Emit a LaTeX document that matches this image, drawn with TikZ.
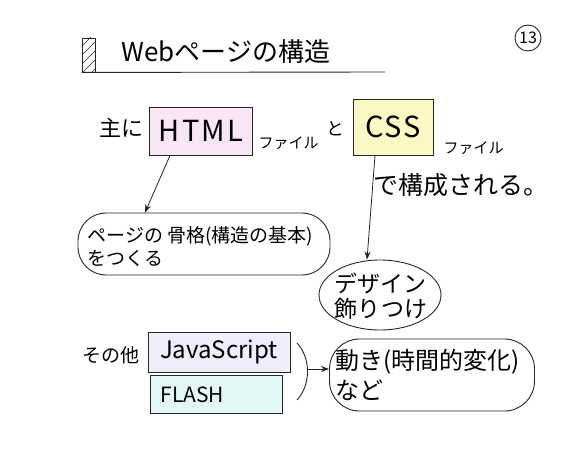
\documentclass[tikz,border=0pt]{standalone}
\usepackage{fontspec}
\setmainfont{Noto Sans CJK JP}
\usetikzlibrary{shapes.geometric,arrows.meta}
\definecolor{pinkc}{HTML}{F8E6F6}
\definecolor{yellowc}{HTML}{FBF8C4}
\definecolor{lavc}{HTML}{EEEDF9}
\definecolor{cyanc}{HTML}{E4F7F7}
\tikzset{
  ink/.style={draw=black!85, line width=0.9pt},
  filebox/.style={ink, inner sep=0pt},
  bubble/.style={ink, rounded corners=28pt, inner sep=0pt},
  arr/.style={black!85, line width=0.8pt, -{Stealth[length=8pt,width=6pt]}},
  fs/.style={font=\fontsize{#1}{#1}\selectfont}
}
\begin{document}
\begin{tikzpicture}[x=1pt,y=-1pt]
\useasboundingbox[fill=white] (0,0) rectangle (570,457);
% title
\node[ink, minimum width=13pt, minimum height=34pt, inner sep=0pt] (mark) at (88.5,55) {};
\begin{scope}
  \clip (mark.south west) rectangle (mark.north east);
  \foreach \y in {46,55,...,90} \draw[black!85, line width=0.7pt] (82,\y) -- (95,\y-13);
\end{scope}
\coordinate (uend) at (385,72);
\draw[ink] (mark.south west) -- (uend);
\node[anchor=west, fs=26] (title) at (118,52) {Webページの構造};
\node[ink, circle, minimum size=26pt, inner sep=0pt, fs=16] (num) at (528,38) {13};
% first row
\node[anchor=east, fs=22] (omoni) at (147,128) {主に};
\node[filebox, fill=pinkc, minimum width=103pt, minimum height=48pt, font=\fontsize{29}{29}\selectfont\addfontfeature{LetterSpace=8}] (html) at (201,131) {HTML};
\node[anchor=west, fs=15] (file1) at (255,143) {ファイル};
\node[fs=18] (to) at (335,129) {と};
\node[filebox, fill=yellowc, minimum width=80pt, minimum height=56pt, font=\fontsize{29}{29}\selectfont\addfontfeature{LetterSpace=6}] (css) at (393,127) {CSS};
\node[anchor=west, fs=15] (file2) at (440,148) {ファイル};
\node[anchor=west, fs=25] (kosei) at (370,185) {で構成される。};
% bubbles
\node[bubble, minimum width=252pt, minimum height=62pt] (b1) at (204,244) {};
\node[anchor=north west, align=left, font=\fontsize{19}{23}\selectfont] (b1t) at (84,223) {ページの 骨格(構造の基本)\\をつくる};
\node[ink, ellipse, minimum width=122pt, minimum height=70pt, inner sep=0pt] (b2) at (380,295) {};
\node[align=left, font=\fontsize{23}{25}\selectfont] (b2t) at (381,296) {デザイン\\飾りつけ};
\draw[arr] ([xshift=-31pt]html.south) -- ([xshift=-59pt]b1.north);
\draw[arr] ([xshift=-18pt]css.south) -- ([xshift=-13pt]b2.north);
% others
\node[anchor=east, fs=19] (sonota) at (143,355) {その他};
\node[filebox, fill=lavc, minimum width=142pt, minimum height=40pt, fs=24] (js) at (219,352) {JavaScript};
\node[filebox, fill=cyanc, minimum width=132pt, minimum height=38pt] (flash) at (216,394) {};
\node[anchor=west, fs=21] (flasht) at (157,395) {FLASH};
\draw[ink] (297,343) .. controls (311,358) and (311,385) .. (297,400);
\coordinate (br) at (307,369);
\node[bubble, rounded corners=30pt, minimum width=205pt, minimum height=72pt] (b3) at (432,375) {};
\node[anchor=north west, align=left, font=\fontsize{24}{30}\selectfont] (b3t) at (332,346) {動き(時間的変化)\\など};
\draw[arr] (br) -- (br -| b3.west);
\end{tikzpicture}
\end{document}
